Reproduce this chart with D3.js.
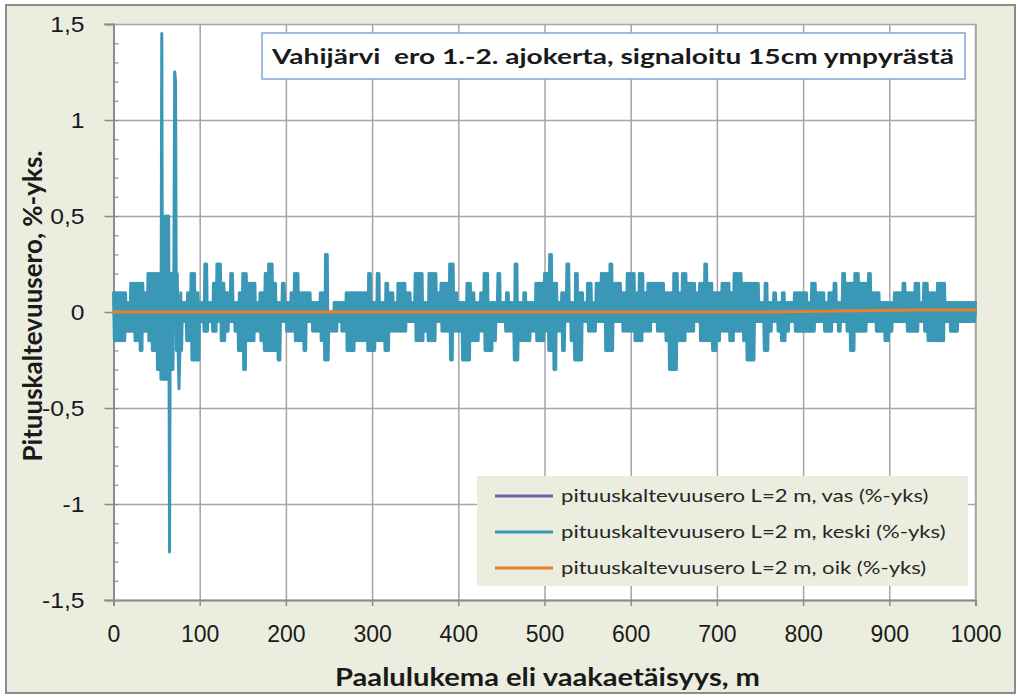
<!DOCTYPE html>
<html>
<head>
<meta charset="utf-8">
<script src="https://cdn.jsdelivr.net/npm/d3@7"></script>
<style>
  body { margin: 0; background: #fff; }
  svg { display: block; font-family: Lato, "Open Sans", sans-serif; }
</style>
</head>
<body>
<div id="chart"></div>
<script>
// chart values (%-yks)
// keski: peak and trough of the signal in each 5 m bin, 0..1000 m
var binWidth = 5;

var keskiUpper = [
    0.1, 0.1, 0.1, 0.05, 0.15, 0.15, 0.15, 0.1, 0.2, 0.2,
    0.2, 0.2, 0.5, 0.2, 0.2, 0.1, 0.05, 0.1, 0.2, 0.1,
    0.05, 0.25, 0.05, 0.15, 0.25, 0.15, 0.1, 0.2, 0.05, 0.1,
    0.2, 0.15, 0.15, 0.05, 0.1, 0.2, 0.25, 0.15, 0.05, 0.15,
    0.05, 0.1, 0.2, 0.1, 0.1, 0.1, 0.05, 0.05, 0.1, 0.3,
    0.0, 0.05, 0.05, 0.05, 0.1, 0.1, 0.1, 0.1, 0.1, 0.2,
    0.05, 0.2, 0.05, 0.15, 0.1, 0.05, 0.15, 0.15, 0.1, 0.05,
    0.2, 0.2, 0.05, 0.2, 0.2, 0.1, 0.15, 0.15, 0.25, 0.1,
    0.05, 0.05, 0.15, 0.1, 0.05, 0.1, 0.2, 0.05, 0.05, 0.2,
    0.05, 0.1, 0.05, 0.25, 0.05, 0.1, 0.05, 0.05, 0.15, 0.15,
    0.2, 0.3, 0.15, 0.05, 0.1, 0.25, 0.05, 0.2, 0.1, 0.05,
    0.15, 0.05, 0.15, 0.2, 0.2, 0.25, 0.15, 0.15, 0.1, 0.2,
    0.2, 0.1, 0.2, 0.1, 0.15, 0.15, 0.15, 0.15, 0.1, 0.1,
    0.2, 0.1, 0.2, 0.15, 0.15, 0.1, 0.15, 0.25, 0.15, 0.1,
    0.1, 0.15, 0.15, 0.1, 0.2, 0.2, 0.15, 0.15, 0.15, 0.15,
    0.05, 0.15, 0.05, 0.1, 0.05, 0.1, 0.05, 0.05, 0.1, 0.1,
    0.1, 0.05, 0.15, 0.1, 0.1, 0.05, 0.1, 0.15, 0.05, 0.2,
    0.15, 0.15, 0.2, 0.15, 0.15, 0.2, 0.1, 0.1, 0.05, 0.05,
    0.05, 0.1, 0.1, 0.15, 0.1, 0.1, 0.15, 0.05, 0.15, 0.1,
    0.1, 0.15, 0.15, 0.05, 0.05, 0.05, 0.05, 0.05, 0.05, 0.05
];

var keskiLower = [
    -0.15, -0.15, -0.15, -0.1, -0.1, -0.15, -0.2, -0.1, -0.15, -0.2,
    -0.3, -0.35, -0.35, -0.3, -0.2, -0.2, -0.05, -0.15, -0.25, -0.25,
    -0.05, -0.1, -0.05, -0.1, -0.05, -0.15, -0.1, -0.05, -0.1, -0.2,
    -0.3, -0.15, -0.15, -0.1, -0.15, -0.2, -0.2, -0.2, -0.25, -0.05,
    -0.1, -0.1, -0.15, -0.15, -0.2, -0.05, -0.1, -0.1, -0.15, -0.25,
    -0.1, -0.1, -0.05, -0.1, -0.2, -0.2, -0.15, -0.15, -0.15, -0.2,
    -0.2, -0.15, -0.15, -0.2, -0.1, -0.1, -0.1, -0.1, -0.05, -0.05,
    -0.15, -0.15, -0.1, -0.15, -0.15, -0.05, -0.1, -0.1, -0.25, -0.1,
    -0.1, -0.25, -0.25, -0.15, -0.15, -0.1, -0.2, -0.2, -0.15, -0.05,
    -0.05, -0.1, -0.1, -0.25, -0.15, -0.15, -0.15, -0.1, -0.15, -0.15,
    -0.1, -0.2, -0.3, -0.1, -0.2, -0.05, -0.15, -0.25, -0.25, -0.05,
    -0.1, -0.1, -0.05, -0.05, -0.2, -0.2, -0.05, -0.05, -0.1, -0.1,
    -0.1, -0.15, -0.15, -0.1, -0.1, -0.05, -0.1, -0.1, -0.15, -0.3,
    -0.3, -0.15, -0.15, -0.1, -0.1, -0.05, -0.15, -0.15, -0.15, -0.2,
    -0.15, -0.1, -0.1, -0.15, -0.1, -0.1, -0.15, -0.25, -0.25, -0.05,
    -0.05, -0.2, -0.1, -0.05, -0.1, -0.15, -0.1, -0.05, -0.1, -0.1,
    -0.1, -0.1, -0.1, -0.05, -0.05, -0.1, -0.1, -0.05, -0.1, -0.05,
    -0.1, -0.2, -0.1, -0.1, -0.1, -0.05, -0.05, -0.1, -0.1, -0.15,
    -0.1, -0.05, -0.05, -0.05, -0.1, -0.1, -0.1, -0.05, -0.1, -0.15,
    -0.15, -0.15, -0.15, -0.05, -0.1, -0.1, -0.05, -0.05, -0.05, -0.05
];

// isolated extreme readings near the start: [distance m, value]
var keskiSpikes = [[56, 1.45], [65, -1.25], [71, 1.25], [72, 1.2], [76, -0.4]];

var sideDist = [0, 250, 500, 750, 935, 1000];
var vasValues = [0, 0, 0, 0, 0, 0];
var oikValues = [0, 0, 0, 0, 0.01, 0.01];

var xTicks = [0, 100, 200, 300, 400, 500, 600, 700, 800, 900, 1000];
var xTickLabels = ['0', '100', '200', '300', '400', '500', '600', '700', '800', '900', '1000'];
var yTicks = [-1.5, -1, -0.5, 0, 0.5, 1, 1.5];
var yTickLabels = ['-1,5', '-1', '-0,5', '0', '0,5', '1', '1,5'];

var seriesNames = [
    'pituuskaltevuusero L=2 m, vas (%-yks)',
    'pituuskaltevuusero L=2 m, keski (%-yks)',
    'pituuskaltevuusero L=2 m, oik (%-yks)'
];
var seriesColors = ['#7b5ea6', '#3a98b6', '#ee7d2e'];

var chartTitle = 'Vahijärvi  ero 1.-2. ajokerta, signaloitu 15cm ympyrästä';
var yTitle = 'Pituuskaltevuusero, %-yks.';
var xTitle = 'Paalulukema eli vaakaetäisyys, m';

// ---------------------------------------------------------------
var width = 1019, height = 697;
var plot = { left: 113.5, right: 975.5, top: 24, bottom: 600 };

// the source picture is a bit wider than its fonts, so stretch text sideways
function stretch(selection, factor) {
    selection.each(function () {
        var w = this.getComputedTextLength();
        d3.select(this)
            .attr('textLength', w * factor)
            .attr('lengthAdjust', 'spacingAndGlyphs');
    });
}

var svg = d3.select('#chart').append('svg')
    .attr('width', width)
    .attr('height', height);

// chart area background + frame
svg.append('rect')
    .attr('x', 6).attr('y', 5)
    .attr('width', 1009).attr('height', 688)
    .attr('fill', '#ebeedf')
    .attr('stroke', '#8c8c8c')
    .attr('stroke-width', 2);

svg.append('rect')
    .attr('x', plot.left).attr('y', plot.top)
    .attr('width', plot.right - plot.left)
    .attr('height', plot.bottom - plot.top)
    .attr('fill', '#fff');

var x = d3.scaleLinear().domain([0, 1000]).range([plot.left, plot.right]);
var y = d3.scaleLinear().domain([-1.5, 1.5]).range([plot.bottom, plot.top]);

// gridlines
svg.append('g')
    .attr('class', 'grid')
    .attr('transform', 'translate(0,' + plot.bottom + ')')
    .call(d3.axisBottom(x).tickValues(xTicks).tickSize(-(plot.bottom - plot.top)).tickFormat(''))
    .call(function (g) { g.select('.domain').remove(); });

svg.append('g')
    .attr('class', 'grid')
    .attr('transform', 'translate(' + plot.left + ',0)')
    .call(d3.axisLeft(y).tickValues(yTicks).tickSize(-(plot.right - plot.left)).tickFormat(''))
    .call(function (g) { g.select('.domain').remove(); });

svg.selectAll('.grid line')
    .attr('stroke', '#a5a5a5')
    .attr('stroke-width', 1.5);

// y minor ticks (inside), every 0.1
var yMinor = d3.range(-14, 15).map(function (k) { return k / 10; });
svg.append('g')
    .attr('transform', 'translate(' + plot.left + ',0)')
    .call(d3.axisRight(y).tickValues(yMinor).tickSize(5).tickFormat(''))
    .call(function (g) {
        g.select('.domain').remove();
        g.selectAll('line').attr('stroke', '#8c8c8c').attr('stroke-width', 1.2);
    });

// y axis with labels
var yAxis = svg.append('g')
    .attr('transform', 'translate(' + plot.left + ',0)')
    .call(d3.axisLeft(y).tickValues(yTicks).tickSize(9).tickPadding(20)
        .tickFormat(function (d, i) { return yTickLabels[i]; }));
yAxis.select('.domain').attr('stroke', '#8c8c8c').attr('stroke-width', 2);
yAxis.selectAll('line').attr('stroke', '#8c8c8c').attr('stroke-width', 1.5);
yAxis.selectAll('text')
    .attr('fill', '#1a1a1a')
    .style('font-size', '22px')
    .call(stretch, 1.12);

// x axis with labels
var xAxis = svg.append('g')
    .attr('transform', 'translate(0,' + plot.bottom + ')')
    .call(d3.axisBottom(x).tickValues(xTicks).tickSize(6).tickPadding(20)
        .tickFormat(function (d, i) { return xTickLabels[i]; }));
xAxis.select('.domain').attr('stroke', '#8c8c8c').attr('stroke-width', 2);
xAxis.selectAll('line').attr('stroke', '#8c8c8c').attr('stroke-width', 1.5);
xAxis.selectAll('text')
    .attr('fill', '#1a1a1a')
    .style('font-size', '23px');

// right frame line of the plot
svg.append('line')
    .attr('x1', plot.right).attr('x2', plot.right)
    .attr('y1', plot.top).attr('y2', plot.bottom)
    .attr('stroke', '#a5a5a5').attr('stroke-width', 1.5);

// series
var line = d3.line()
    .x(function (d) { return x(d[0]); })
    .y(function (d) { return y(d[1]); });

// the signal swings between the bin's peak and trough metre by metre
var keskiPoints = d3.range(0, 1001).map(function (m) {
    var bin = Math.min(keskiUpper.length - 1, Math.floor(m / binWidth));
    return [m, m % 2 === 0 ? keskiUpper[bin] : keskiLower[bin]];
});
keskiSpikes.forEach(function (s) {
    keskiPoints[s[0]] = [s[0], s[1]];
});

var vasPoints = sideDist.map(function (d, i) { return [d, vasValues[i]]; });
var oikPoints = sideDist.map(function (d, i) { return [d, oikValues[i]]; });

[vasPoints, keskiPoints, oikPoints].forEach(function (pts, i) {
    svg.append('path')
        .datum(pts)
        .attr('d', line)
        .attr('fill', 'none')
        .attr('stroke', seriesColors[i])
        .attr('stroke-width', 3)
        .attr('stroke-linejoin', 'round')
        .attr('stroke-linecap', 'round');
});

// title box
svg.append('rect')
    .attr('x', 262).attr('y', 33)
    .attr('width', 703).attr('height', 46)
    .attr('fill', '#fff')
    .attr('stroke', '#7fa6d8')
    .attr('stroke-width', 1.5);

svg.append('text')
    .attr('x', 272).attr('y', 64)
    .style('font-size', '21px')
    .style('font-weight', 'bold')
    .attr('fill', '#1a1a1a')
    .attr('xml:space', 'preserve')
    .attr('textLength', 682)
    .attr('lengthAdjust', 'spacingAndGlyphs')
    .text(chartTitle);

// legend
var legend = svg.append('g');
legend.append('rect')
    .attr('x', 477).attr('y', 476)
    .attr('width', 491).attr('height', 110)
    .attr('fill', '#ebeedf');

var legendRows = legend.selectAll('g.row')
    .data(seriesNames)
    .enter().append('g')
    .attr('class', 'row')
    .attr('transform', function (d, i) { return 'translate(495,' + (496 + i * 36) + ')'; });

legendRows.append('line')
    .attr('x1', 0).attr('x2', 58)
    .attr('stroke', function (d, i) { return seriesColors[i]; })
    .attr('stroke-width', 3);

legendRows.append('text')
    .attr('x', 66).attr('dy', '0.35em')
    .style('font-size', '17px')
    .attr('fill', '#262626')
    .text(function (d) { return d; })
    .call(stretch, 1.3);

// axis titles
svg.append('text')
    .attr('transform', 'translate(33,306) rotate(-90)')
    .attr('text-anchor', 'middle')
    .attr('dy', '0.35em')
    .style('font-size', '26px')
    .style('font-weight', 'bold')
    .attr('fill', '#1a1a1a')
    .text(yTitle);

svg.append('text')
    .attr('x', 335).attr('y', 686)
    .style('font-size', '24px')
    .style('font-weight', 'bold')
    .attr('fill', '#1a1a1a')
    .attr('textLength', 425)
    .attr('lengthAdjust', 'spacingAndGlyphs')
    .text(xTitle);
</script>
</body>
</html>
